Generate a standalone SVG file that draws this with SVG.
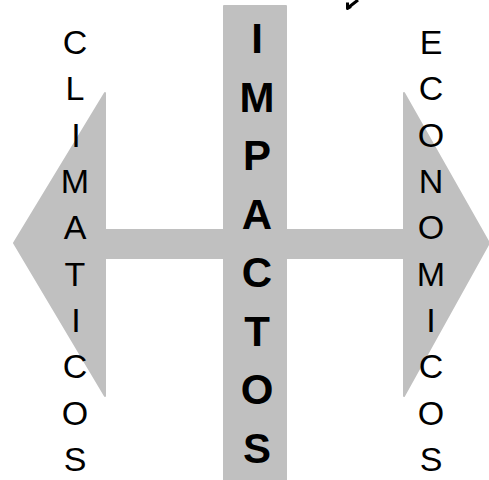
<svg xmlns="http://www.w3.org/2000/svg" width="489" height="480" viewBox="0 0 489 480">
<style>
.shape{fill:#c0c0c0;stroke:#c0c0c0;stroke-width:2;stroke-linejoin:round}
.side{font-family:"Liberation Sans",Arial,sans-serif;font-size:34px;fill:#000;text-anchor:middle}
.main{font-family:"Liberation Sans",Arial,sans-serif;font-size:42px;font-weight:bold;fill:#000;text-anchor:middle}
</style>
<rect width="489" height="480" fill="#fff"/>
<g id="connectors">
<path class="shape" d="M14,243 L105,93 L105,230 L404,230 L404,93 L489,243 L404,396 L404,258 L105,258 L105,396 Z"/>
<path d="M358,0 L349,7 M347.5,2.5 L347.5,8.5 L351,6.5" fill="none" stroke="#000" stroke-width="3" stroke-linejoin="round"/>
</g>
<g id="impactos">
<rect class="shape" x="224" y="6" width="62" height="476"/>
<text class="main" x="257" y="53">I</text>
<text class="main" x="257" y="112">M</text>
<text class="main" x="257" y="170">P</text>
<text class="main" x="257" y="229">A</text>
<text class="main" x="257" y="287">C</text>
<text class="main" x="257" y="346">T</text>
<text class="main" x="257" y="404">O</text>
<text class="main" x="257" y="463">S</text>
</g>
<g id="climaticos">
<text class="side" x="75" y="54">C</text>
<text class="side" x="75" y="100">L</text>
<text class="side" x="76" y="147">I</text>
<text class="side" x="75" y="193">M</text>
<text class="side" x="75" y="239">A</text>
<text class="side" x="75" y="286">T</text>
<text class="side" x="76" y="332">I</text>
<text class="side" x="75" y="378">C</text>
<text class="side" x="75" y="425">O</text>
<text class="side" x="75" y="471">S</text>
</g>
<g id="economicos">
<text class="side" x="431" y="54">E</text>
<text class="side" x="431" y="100">C</text>
<text class="side" x="431" y="147">O</text>
<text class="side" x="431" y="193">N</text>
<text class="side" x="431" y="239">O</text>
<text class="side" x="431" y="286">M</text>
<text class="side" x="431" y="332">I</text>
<text class="side" x="431" y="378">C</text>
<text class="side" x="431" y="425">O</text>
<text class="side" x="431" y="471">S</text>
</g>
</svg>
